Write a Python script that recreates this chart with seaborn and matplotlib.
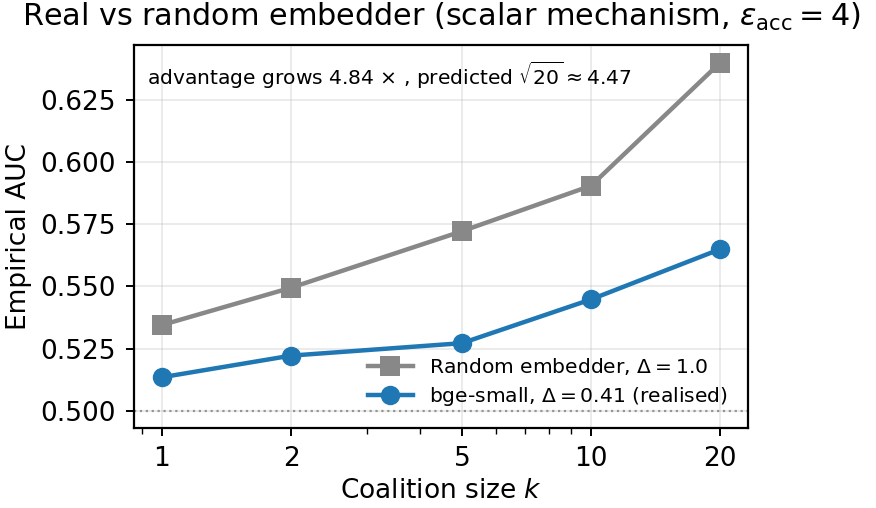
import numpy as np
import pandas as pd
import seaborn as sns
import matplotlib
matplotlib.use("Agg")
import matplotlib.pyplot as plt
from matplotlib.ticker import FixedLocator, FixedFormatter, NullFormatter, FormatStrFormatter

# ============================================
# DATA
# ============================================

k_values = [1, 2, 5, 10, 20]
random_auc = [0.5345, 0.5495, 0.5722, 0.5905, 0.6400]
bge_auc = [0.5135, 0.5222, 0.5272, 0.5448, 0.5650]
series_labels = [r"Random embedder, $\Delta = 1.0$",
                 r"bge-small, $\Delta = 0.41$ (realised)"]
x_ticks = [1, 2, 5, 10, 20]

# ============================================
# PLOT
# ============================================

plt.rcParams['font.family'] = ['DejaVu Sans']

fig = plt.figure(figsize=(4.38, 2.54), dpi=200)
ax = fig.add_axes([0.153, 0.157, 0.701, 0.754])

df_rand = pd.DataFrame({"k": k_values, "auc": random_auc})
df_bge = pd.DataFrame({"k": k_values, "auc": bge_auc})

sns.lineplot(data=df_rand, x="k", y="auc", ax=ax, color="#888888",
             marker="s", markersize=7, linewidth=1.6, markeredgewidth=0,
             label=series_labels[0])
sns.lineplot(data=df_bge, x="k", y="auc", ax=ax, color="#1f77b4",
             marker="o", markersize=7, linewidth=1.6, markeredgewidth=0,
             label=series_labels[1])

ax.axhline(0.5, color="gray", linestyle=":", linewidth=0.8, alpha=0.8)

ax.set_xscale("log")
ax.xaxis.set_major_locator(FixedLocator(x_ticks))
ax.xaxis.set_major_formatter(FixedFormatter([str(t) for t in x_ticks]))
ax.xaxis.set_minor_formatter(NullFormatter())
ax.set_yticks([0.500, 0.525, 0.550, 0.575, 0.600, 0.625])
ax.yaxis.set_major_formatter(FormatStrFormatter("%.3f"))

ax.grid(True, alpha=0.3, linewidth=0.6)
ax.tick_params(labelsize=9.5, width=0.7, length=3)
ax.tick_params(which="minor", width=0.5, length=2)
for s in ax.spines.values():
    s.set_linewidth(0.8)

ax.set_xlabel(r"Coalition size $k$", fontsize=9.5, labelpad=2)
ax.set_ylabel("Empirical AUC", fontsize=9.5, labelpad=3)
ax.set_title(r"Real vs random embedder (scalar mechanism, $\varepsilon_{\rm acc} = 4$)",
             fontsize=10.9, pad=7)

ax.text(0.021, 0.92,
        r"advantage grows 4.84 $\times$ , predicted $\sqrt{20} \approx 4.47$",
        transform=ax.transAxes, fontsize=7.3, va="center", ha="left")

ax.legend(loc="lower right", frameon=False, fontsize=7.3,
          handlelength=2.2, borderaxespad=0.6, labelspacing=0.4)

fig.savefig("out.png", dpi=200)
